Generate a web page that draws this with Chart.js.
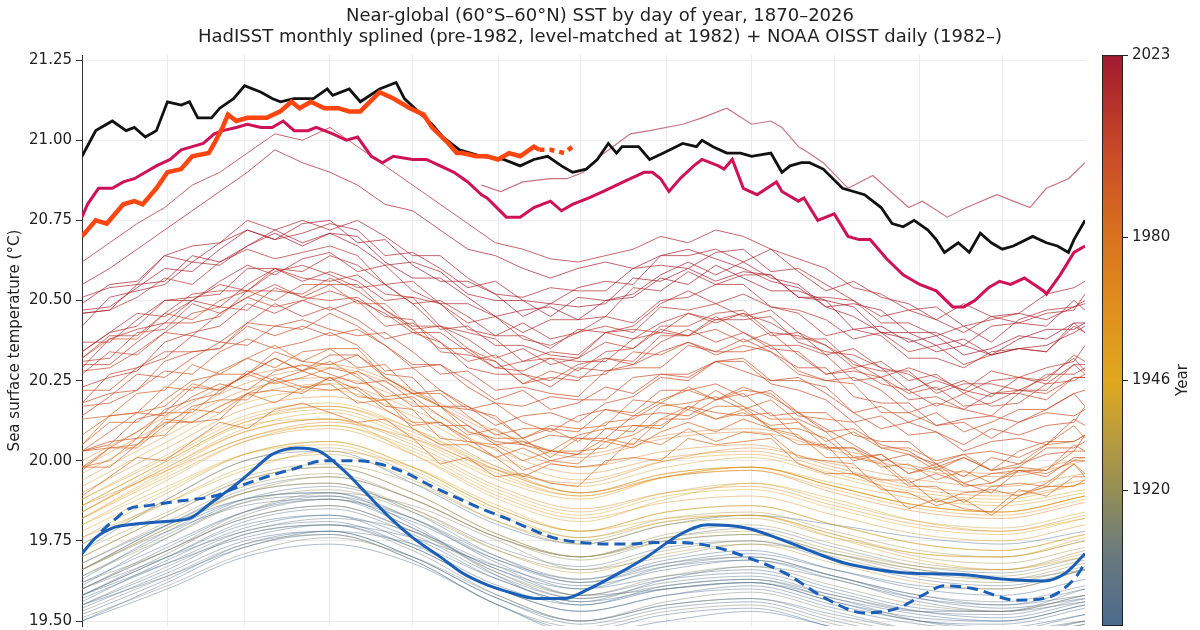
<!DOCTYPE html>
<html>
<head>
<meta charset="utf-8">
<title>Near-global SST by day of year</title>
<script src="https://cdn.jsdelivr.net/npm/chart.js@4.4.1/dist/chart.umd.min.js"></script>
<style>
  html, body { margin: 0; padding: 0; background: #fff; }
  #wrap { width: 1200px; height: 630px; }
</style>
</head>
<body>
<div id="wrap"><canvas id="sst" width="1200" height="630"></canvas></div>
<script>
// day-of-year grids
var monthStarts = [1, 32, 60, 91, 121, 152, 182, 213, 244, 274, 305, 335];
var smoothDays = [1, 32, 60, 91, 121, 152, 182, 213, 244, 274, 305, 335, 365];
var dailyDays = [1, 11, 21, 31, 41, 51, 61, 71, 81, 91, 101, 111, 121, 131, 141, 151, 161, 171, 181,
                 191, 201, 211, 221, 231, 241, 251, 261, 271, 281, 291, 301, 311, 321, 331, 341, 351, 361, 365];

var yTicks = [19.5, 19.75, 20.0, 20.25, 20.5, 20.75, 21.0, 21.25];
var colorbarTicks = [1920, 1946, 1980, 2023];

// HadISST years, monthly splined (values at smoothDays)
var smoothYears = [1870, 1871, 1872, 1873, 1875, 1876, 1878, 1880, 1881, 1883, 1885, 1886, 1888, 1890, 1891,
                   1893, 1895, 1896, 1898, 1900, 1901, 1903, 1905, 1906, 1908, 1910, 1911, 1913, 1915, 1917,
                   1918, 1920, 1923, 1925, 1926, 1929, 1931, 1933, 1934, 1937, 1940, 1942, 1944, 1946, 1949,
                   1950, 1952, 1955, 1957, 1958, 1961, 1964, 1967, 1968, 1970, 1973, 1975, 1976, 1979, 1981];
var smoothSeries = [
  [19.60,19.72,19.82,19.86,19.78,19.66,19.58,19.63,19.65,19.59,19.53,19.51,19.56],
  [19.50,19.60,19.70,19.74,19.68,19.55,19.46,19.50,19.53,19.48,19.42,19.41,19.46],
  [19.63,19.78,19.88,19.90,19.80,19.64,19.55,19.60,19.62,19.56,19.50,19.49,19.54],
  [19.55,19.66,19.77,19.80,19.73,19.60,19.53,19.58,19.61,19.55,19.50,19.48,19.52],
  [19.58,19.68,19.76,19.80,19.76,19.67,19.61,19.66,19.69,19.64,19.57,19.54,19.57],
  [19.66,19.80,19.90,19.93,19.84,19.70,19.62,19.68,19.71,19.66,19.61,19.60,19.66],
  [19.72,19.88,20.00,20.03,19.93,19.80,19.74,19.80,19.83,19.80,19.76,19.74,19.78],
  [19.58,19.70,19.80,19.83,19.76,19.63,19.56,19.60,19.62,19.56,19.51,19.50,19.55],
  [19.68,19.80,19.88,19.90,19.82,19.68,19.60,19.64,19.66,19.60,19.54,19.53,19.58],
  [19.52,19.63,19.74,19.78,19.70,19.57,19.50,19.55,19.57,19.52,19.47,19.46,19.50],
  [19.56,19.69,19.79,19.83,19.74,19.61,19.55,19.61,19.63,19.57,19.52,19.50,19.55],
  [19.50,19.62,19.73,19.77,19.69,19.55,19.47,19.52,19.54,19.48,19.43,19.42,19.47],
  [19.62,19.74,19.84,19.88,19.81,19.69,19.63,19.69,19.72,19.66,19.60,19.58,19.63],
  [19.54,19.65,19.75,19.78,19.70,19.57,19.49,19.54,19.56,19.50,19.45,19.44,19.49],
  [19.61,19.76,19.87,19.89,19.79,19.66,19.60,19.67,19.70,19.64,19.58,19.55,19.58],
  [19.57,19.68,19.78,19.81,19.73,19.60,19.53,19.58,19.60,19.54,19.49,19.47,19.52],
  [19.60,19.73,19.84,19.89,19.82,19.69,19.62,19.67,19.69,19.63,19.57,19.55,19.60],
  [19.55,19.64,19.73,19.78,19.74,19.63,19.56,19.63,19.67,19.63,19.56,19.53,19.56],
  [19.58,19.70,19.81,19.85,19.77,19.64,19.57,19.62,19.64,19.58,19.53,19.52,19.57],
  [19.64,19.77,19.88,19.92,19.85,19.73,19.67,19.73,19.75,19.69,19.63,19.61,19.66],
  [19.66,19.78,19.86,19.88,19.79,19.65,19.57,19.61,19.63,19.58,19.53,19.53,19.60],
  [19.60,19.70,19.78,19.82,19.78,19.67,19.58,19.60,19.62,19.57,19.50,19.47,19.50],
  [19.66,19.80,19.91,19.95,19.88,19.76,19.70,19.76,19.79,19.73,19.67,19.65,19.70],
  [19.58,19.71,19.83,19.88,19.82,19.70,19.63,19.68,19.70,19.64,19.58,19.56,19.61],
  [19.55,19.67,19.77,19.80,19.72,19.58,19.50,19.55,19.57,19.51,19.46,19.45,19.50],
  [19.53,19.64,19.74,19.77,19.69,19.55,19.48,19.53,19.55,19.49,19.44,19.43,19.48],
  [19.51,19.61,19.71,19.76,19.70,19.58,19.50,19.56,19.59,19.53,19.47,19.45,19.49],
  [19.62,19.72,19.84,19.90,19.86,19.75,19.66,19.70,19.74,19.71,19.66,19.63,19.66],
  [19.70,19.83,19.94,19.98,19.90,19.77,19.70,19.75,19.77,19.71,19.65,19.63,19.68],
  [19.60,19.72,19.82,19.86,19.78,19.65,19.58,19.64,19.67,19.61,19.55,19.53,19.58],
  [19.64,19.76,19.87,19.91,19.84,19.72,19.66,19.72,19.75,19.70,19.64,19.62,19.67],
  [19.68,19.81,19.92,19.96,19.88,19.76,19.69,19.75,19.77,19.71,19.66,19.64,19.69],
  [19.66,19.79,19.90,19.95,19.88,19.76,19.70,19.77,19.80,19.74,19.68,19.66,19.72],
  [19.72,19.84,19.95,19.99,19.93,19.81,19.75,19.81,19.83,19.77,19.70,19.68,19.73],
  [19.74,19.88,20.00,20.04,19.96,19.83,19.76,19.82,19.84,19.78,19.72,19.70,19.75],
  [19.70,19.83,19.94,19.98,19.90,19.77,19.70,19.76,19.78,19.72,19.67,19.66,19.71],
  [19.76,19.90,20.02,20.06,19.98,19.85,19.78,19.84,19.86,19.80,19.74,19.72,19.77],
  [19.66,19.79,19.90,19.93,19.85,19.72,19.65,19.71,19.74,19.68,19.62,19.60,19.66],
  [19.74,19.87,19.98,20.02,19.94,19.81,19.74,19.80,19.82,19.76,19.71,19.70,19.75],
  [19.80,19.94,20.06,20.11,20.04,19.91,19.84,19.90,19.93,19.87,19.81,19.79,19.84],
  [19.86,20.00,20.12,20.17,20.10,19.98,19.92,19.98,20.01,19.95,19.89,19.87,19.91],
  [19.84,19.99,20.11,20.13,20.02,19.88,19.81,19.88,19.93,19.88,19.81,19.78,19.82],
  [19.88,20.02,20.14,20.18,20.10,19.97,19.90,19.96,19.98,19.92,19.86,19.84,19.89],
  [19.82,19.96,20.07,20.11,20.03,19.90,19.83,19.89,19.91,19.85,19.79,19.77,19.82],
  [19.78,19.91,20.02,20.06,19.98,19.85,19.78,19.84,19.86,19.80,19.74,19.72,19.77],
  [19.80,19.92,20.02,20.05,19.97,19.84,19.76,19.81,19.83,19.77,19.71,19.70,19.76],
  [19.84,19.98,20.10,20.15,20.07,19.95,19.89,19.95,19.98,19.92,19.86,19.84,19.89],
  [19.76,19.87,19.97,20.03,19.98,19.86,19.78,19.82,19.83,19.76,19.69,19.66,19.70],
  [19.82,19.97,20.09,20.13,20.06,19.94,19.88,19.95,19.98,19.93,19.88,19.86,19.90],
  [19.92,20.06,20.18,20.22,20.14,20.01,19.94,20.00,20.02,19.96,19.90,19.88,19.93],
  [19.86,20.00,20.12,20.16,20.08,19.96,19.89,19.95,19.97,19.91,19.85,19.83,19.88],
  [19.82,19.95,20.06,20.10,20.02,19.89,19.82,19.87,19.89,19.83,19.77,19.75,19.80],
  [19.88,20.01,20.13,20.17,20.09,19.97,19.90,19.96,19.98,19.92,19.86,19.84,19.89],
  [19.84,19.98,20.09,20.13,20.05,19.92,19.85,19.90,19.92,19.86,19.80,19.78,19.83],
  [19.94,20.08,20.20,20.24,20.16,20.03,19.96,20.01,20.03,19.97,19.91,19.89,19.93],
  [19.96,20.10,20.22,20.26,20.18,20.05,19.98,20.03,20.05,19.98,19.92,19.90,19.94],
  [19.90,20.04,20.16,20.20,20.12,19.98,19.90,19.95,19.97,19.90,19.84,19.82,19.87],
  [19.86,19.97,20.07,20.12,20.07,19.97,19.93,20.00,20.04,19.99,19.94,19.92,19.96],
  [19.98,20.12,20.24,20.29,20.21,20.08,20.01,20.07,20.09,20.03,19.97,19.95,20.00],
  [20.00,20.14,20.26,20.30,20.22,20.09,20.02,20.08,20.10,20.04,19.98,19.96,20.01]
];

// NOAA OISST daily years (values at dailyDays)
var dailyYears = [1982, 1983, 1984, 1985, 1986, 1987, 1988, 1989, 1990, 1992, 1993, 1994, 1995, 1997, 1998,
                  1999, 2000, 2001, 2003, 2004, 2005, 2006, 2008, 2009, 2010, 2011, 2012, 2013, 2014, 2015,
                  2016, 2017, 2018, 2019, 2020, 2021, 2022];
var dailySeries = [
  [19.98,20.00,20.07,20.08,20.16,20.15,20.21,20.25,20.22,20.26,20.20,20.19,20.12,20.12,20.06,20.05,20.00,20.03,20.03,20.04,20.11,20.11,20.16,20.13,20.15,20.11,20.12,20.04,20.04,19.98,19.99,19.94,19.97,19.93,19.98,19.97,20.03,20.03],
  [20.05,20.14,20.15,20.17,20.24,20.22,20.27,20.32,20.28,20.31,20.26,20.20,20.21,20.17,20.09,20.07,20.07,20.01,20.07,20.06,20.08,20.13,20.17,20.13,20.16,20.10,20.08,20.01,20.01,19.99,19.92,19.92,19.87,19.92,19.93,19.92,19.99,19.96],
  [19.98,20.04,20.05,20.13,20.12,20.17,20.21,20.18,20.23,20.24,20.18,20.19,20.10,20.05,20.05,20.01,19.95,19.99,19.98,19.99,20.07,20.05,20.10,20.06,20.09,20.08,20.01,20.00,19.99,19.91,19.90,19.86,19.88,19.83,19.89,19.92,19.92,19.94],
  [19.89,19.95,20.01,20.00,20.06,20.12,20.10,20.16,20.18,20.15,20.12,20.13,20.07,19.99,20.01,19.95,19.96,19.93,19.92,20.00,20.01,20.00,20.07,20.05,20.06,20.07,19.99,19.96,19.96,19.92,19.85,19.88,19.85,19.84,19.91,19.89,19.95,19.95],
  [19.97,20.04,20.04,20.11,20.17,20.19,20.19,20.26,20.23,20.22,20.23,20.17,20.16,20.07,20.06,20.04,19.97,20.00,19.99,20.06,20.04,20.09,20.12,20.09,20.13,20.10,20.05,20.05,19.96,19.94,19.94,19.87,19.90,19.91,19.89,19.93,19.99,19.95],
  [20.03,20.04,20.09,20.15,20.15,20.22,20.27,20.24,20.26,20.29,20.27,20.19,20.20,20.14,20.08,20.10,20.05,20.03,20.08,20.10,20.09,20.17,20.18,20.20,20.16,20.19,20.12,20.06,20.09,20.04,20.02,19.97,20.01,19.97,19.99,20.05,20.06,20.08],
  [20.13,20.14,20.21,20.22,20.30,20.27,20.32,20.36,20.31,20.35,20.35,20.26,20.21,20.21,20.14,20.08,20.10,20.10,20.06,20.12,20.13,20.18,20.16,20.22,20.17,20.13,20.13,20.09,20.01,20.02,19.96,19.98,19.92,19.93,19.97,19.96,20.00,20.00],
  [19.98,19.98,20.05,20.12,20.12,20.13,20.21,20.22,20.21,20.26,20.22,20.16,20.11,20.12,20.07,20.01,20.04,20.00,20.02,20.07,20.05,20.13,20.13,20.17,20.17,20.10,20.10,20.07,20.00,20.02,19.96,19.99,19.93,19.96,19.97,19.97,20.05,20.03],
  [20.08,20.14,20.15,20.23,20.22,20.28,20.32,20.29,20.34,20.35,20.29,20.30,20.22,20.17,20.17,20.13,20.07,20.11,20.10,20.11,20.19,20.18,20.23,20.19,20.22,20.21,20.14,20.13,20.12,20.04,20.04,20.00,20.02,19.97,20.03,20.06,20.06,20.08],
  [20.03,20.09,20.15,20.14,20.20,20.24,20.22,20.28,20.30,20.27,20.24,20.25,20.19,20.11,20.11,20.05,20.06,20.03,20.02,20.10,20.11,20.10,20.17,20.15,20.14,20.15,20.07,20.04,20.04,20.00,19.93,19.96,19.93,19.90,19.97,19.95,20.01,20.01],
  [20.05,20.12,20.12,20.19,20.25,20.27,20.27,20.34,20.31,20.30,20.33,20.27,20.26,20.17,20.16,20.14,20.07,20.10,20.09,20.16,20.14,20.19,20.22,20.19,20.23,20.20,20.15,20.15,20.08,20.06,20.06,19.99,20.02,20.03,20.01,20.05,20.11,20.07],
  [20.03,20.06,20.07,20.16,20.19,20.21,20.28,20.25,20.28,20.25,20.28,20.23,20.17,20.17,20.11,20.06,20.05,20.08,20.07,20.07,20.14,20.15,20.14,20.19,20.21,20.14,20.15,20.10,20.05,20.00,20.02,19.99,19.95,20.01,19.99,20.02,20.03,20.08],
  [20.17,20.18,20.22,20.28,20.27,20.34,20.38,20.35,20.37,20.40,20.36,20.28,20.29,20.22,20.16,20.18,20.12,20.09,20.14,20.16,20.15,20.22,20.22,20.24,20.20,20.22,20.15,20.09,20.10,20.05,20.03,19.98,20.01,19.97,19.98,20.04,20.04,20.06],
  [20.03,20.05,20.13,20.15,20.23,20.22,20.27,20.32,20.28,20.33,20.33,20.26,20.21,20.22,20.17,20.11,20.14,20.15,20.12,20.18,20.20,20.26,20.25,20.31,20.28,20.25,20.25,20.23,20.15,20.17,20.12,20.15,20.09,20.12,20.16,20.16,20.21,20.22],
  [20.32,20.38,20.38,20.46,20.44,20.50,20.53,20.50,20.55,20.55,20.49,20.49,20.41,20.35,20.35,20.31,20.24,20.28,20.26,20.27,20.34,20.33,20.37,20.33,20.36,20.34,20.27,20.25,20.24,20.15,20.15,20.11,20.12,20.07,20.12,20.15,20.14,20.16],
  [20.22,20.22,20.29,20.34,20.34,20.35,20.43,20.42,20.41,20.46,20.42,20.36,20.29,20.30,20.25,20.19,20.22,20.16,20.18,20.23,20.21,20.27,20.27,20.31,20.31,20.24,20.22,20.19,20.12,20.14,20.08,20.09,20.03,20.06,20.07,20.05,20.13,20.11],
  [20.18,20.21,20.22,20.31,20.34,20.35,20.42,20.39,20.42,20.39,20.41,20.36,20.30,20.30,20.23,20.18,20.17,20.20,20.19,20.19,20.26,20.27,20.26,20.31,20.32,20.25,20.26,20.21,20.15,20.10,20.12,20.09,20.05,20.10,20.08,20.11,20.12,20.17],
  [20.14,20.20,20.27,20.26,20.32,20.37,20.36,20.42,20.44,20.41,20.39,20.40,20.34,20.27,20.28,20.22,20.23,20.21,20.20,20.28,20.29,20.29,20.36,20.34,20.34,20.36,20.28,20.25,20.26,20.22,20.15,20.18,20.16,20.14,20.21,20.19,20.26,20.26],
  [20.28,20.29,20.34,20.40,20.39,20.46,20.51,20.48,20.50,20.53,20.50,20.42,20.43,20.37,20.31,20.33,20.27,20.25,20.30,20.32,20.31,20.39,20.39,20.41,20.37,20.40,20.33,20.27,20.29,20.24,20.22,20.17,20.21,20.17,20.18,20.24,20.25,20.27],
  [20.27,20.34,20.33,20.40,20.46,20.48,20.47,20.54,20.51,20.50,20.51,20.45,20.44,20.34,20.33,20.31,20.24,20.26,20.25,20.32,20.30,20.34,20.37,20.34,20.38,20.34,20.29,20.29,20.20,20.18,20.18,20.11,20.13,20.14,20.12,20.16,20.21,20.17],
  [20.31,20.32,20.40,20.41,20.49,20.46,20.51,20.55,20.51,20.55,20.55,20.47,20.42,20.42,20.35,20.29,20.31,20.32,20.28,20.34,20.35,20.41,20.39,20.45,20.40,20.36,20.36,20.33,20.25,20.26,20.21,20.23,20.17,20.18,20.22,20.21,20.26,20.26],
  [20.18,20.27,20.29,20.32,20.39,20.37,20.43,20.49,20.45,20.48,20.44,20.38,20.40,20.37,20.29,20.27,20.27,20.23,20.29,20.28,20.30,20.37,20.41,20.37,20.40,20.35,20.34,20.27,20.28,20.26,20.19,20.20,20.16,20.21,20.22,20.22,20.30,20.27],
  [20.30,20.30,20.37,20.43,20.43,20.45,20.53,20.53,20.52,20.57,20.53,20.47,20.41,20.42,20.38,20.32,20.35,20.30,20.32,20.37,20.35,20.42,20.42,20.46,20.47,20.40,20.39,20.36,20.29,20.31,20.25,20.27,20.21,20.25,20.26,20.25,20.33,20.31],
  [20.23,20.26,20.28,20.37,20.40,20.42,20.49,20.46,20.50,20.47,20.50,20.46,20.40,20.40,20.34,20.29,20.28,20.32,20.31,20.31,20.38,20.40,20.39,20.44,20.46,20.39,20.40,20.36,20.31,20.26,20.29,20.26,20.22,20.28,20.26,20.29,20.31,20.36],
  [20.46,20.47,20.51,20.57,20.55,20.62,20.66,20.63,20.65,20.67,20.64,20.55,20.56,20.49,20.43,20.45,20.38,20.36,20.40,20.42,20.40,20.48,20.47,20.49,20.45,20.47,20.40,20.33,20.35,20.29,20.27,20.22,20.25,20.21,20.21,20.27,20.27,20.29],
  [20.32,20.39,20.39,20.46,20.52,20.53,20.53,20.60,20.57,20.56,20.58,20.52,20.51,20.42,20.40,20.38,20.31,20.34,20.33,20.40,20.38,20.43,20.46,20.43,20.46,20.43,20.38,20.38,20.30,20.28,20.28,20.21,20.24,20.24,20.22,20.26,20.32,20.28],
  [20.34,20.40,20.46,20.45,20.50,20.55,20.53,20.59,20.61,20.58,20.54,20.55,20.49,20.41,20.42,20.36,20.36,20.33,20.32,20.40,20.41,20.40,20.46,20.44,20.44,20.45,20.37,20.34,20.33,20.29,20.22,20.25,20.22,20.20,20.26,20.24,20.30,20.30],
  [20.37,20.37,20.44,20.50,20.51,20.52,20.60,20.60,20.59,20.64,20.61,20.55,20.49,20.50,20.45,20.39,20.43,20.38,20.40,20.45,20.43,20.50,20.51,20.55,20.55,20.48,20.47,20.44,20.38,20.40,20.34,20.36,20.30,20.33,20.35,20.34,20.42,20.40],
  [20.29,20.38,20.41,20.43,20.50,20.48,20.55,20.60,20.56,20.59,20.56,20.50,20.51,20.49,20.41,20.39,20.39,20.35,20.41,20.40,20.42,20.49,20.53,20.49,20.52,20.48,20.46,20.39,20.41,20.39,20.32,20.32,20.29,20.34,20.35,20.34,20.43,20.40],
  [20.34,20.40,20.42,20.50,20.50,20.56,20.61,20.58,20.63,20.65,20.59,20.61,20.53,20.49,20.49,20.45,20.40,20.44,20.44,20.45,20.54,20.53,20.59,20.55,20.58,20.58,20.51,20.51,20.50,20.43,20.43,20.39,20.42,20.37,20.44,20.47,20.48,20.50],
  [20.62,20.68,20.74,20.79,20.86,20.90,20.96,21.02,21.00,21.04,20.98,20.92,20.86,20.80,20.74,20.68,20.66,20.63,20.62,20.64,20.66,20.70,20.68,20.72,20.70,20.66,20.63,20.60,20.54,20.52,20.47,20.48,20.42,20.44,20.46,20.44,20.48,20.49],
  [20.51,20.54,20.55,20.64,20.67,20.68,20.75,20.72,20.75,20.72,20.75,20.70,20.64,20.64,20.57,20.52,20.51,20.54,20.53,20.53,20.60,20.61,20.60,20.65,20.66,20.59,20.60,20.55,20.50,20.45,20.47,20.44,20.40,20.45,20.43,20.46,20.47,20.52],
  [20.42,20.51,20.53,20.55,20.62,20.61,20.67,20.72,20.68,20.71,20.67,20.61,20.62,20.59,20.52,20.50,20.50,20.45,20.51,20.50,20.52,20.58,20.62,20.58,20.62,20.57,20.55,20.48,20.49,20.47,20.40,20.40,20.36,20.42,20.43,20.42,20.50,20.47],
  [20.47,20.48,20.54,20.60,20.59,20.66,20.72,20.69,20.71,20.74,20.72,20.64,20.65,20.60,20.54,20.56,20.50,20.49,20.54,20.56,20.55,20.64,20.64,20.66,20.62,20.66,20.59,20.53,20.56,20.51,20.49,20.44,20.49,20.45,20.46,20.52,20.54,20.56],
  [20.55,20.60,20.66,20.72,20.78,20.84,20.90,20.97,20.93,20.90,20.86,20.80,20.78,20.72,20.66,20.64,20.60,20.57,20.60,20.62,20.60,20.64,20.66,20.63,20.60,20.56,20.54,20.48,20.45,20.40,20.38,20.34,20.36,20.33,20.35,20.36,20.40,20.42],
  [20.49,20.55,20.56,20.64,20.62,20.68,20.72,20.69,20.74,20.75,20.68,20.69,20.61,20.56,20.56,20.52,20.45,20.49,20.48,20.49,20.57,20.56,20.60,20.56,20.59,20.58,20.51,20.50,20.48,20.40,20.40,20.36,20.38,20.33,20.38,20.41,20.41,20.43],
  [20.46,20.47,20.55,20.56,20.64,20.62,20.67,20.71,20.67,20.71,20.70,20.62,20.57,20.57,20.51,20.45,20.47,20.48,20.44,20.50,20.51,20.57,20.55,20.61,20.57,20.53,20.53,20.50,20.41,20.42,20.37,20.39,20.33,20.35,20.39,20.38,20.43,20.43]
];

// highlighted lines, [day, value]
var blackLine = [[1,20.95],[6,21.03],[12,21.06],[17,21.03],[20,21.04],[24,21.01],[28,21.03],[32,21.12],[37,21.11],[40,21.12],
  [43,21.07],[48,21.07],[51,21.10],[56,21.13],[60,21.17],[66,21.15],[70,21.13],[73,21.12],[78,21.13],[85,21.13],[90,21.16],
  [92,21.14],[98,21.16],[102,21.12],[109,21.16],[115,21.18],[118,21.13],[123,21.09],[128,21.05],[132,21.01],[138,20.97],
  [146,20.95],[154,20.94],[160,20.92],[165,20.94],[170,20.95],[175,20.92],[179,20.90],[184,20.91],[188,20.94],[192,20.99],
  [195,20.96],[197,20.98],[203,20.98],[207,20.94],[212,20.96],[219,20.99],[224,20.98],[226,21.00],[230,20.98],[235,20.96],
  [240,20.96],[244,20.95],[251,20.96],[255,20.90],[258,20.92],[262,20.93],[265,20.93],[270,20.91],[277,20.85],[281,20.84],
  [285,20.83],[291,20.79],[295,20.74],[299,20.73],[303,20.75],[308,20.72],[311,20.69],[314,20.65],[319,20.68],[323,20.65],
  [327,20.71],[331,20.68],[335,20.66],[339,20.67],[346,20.70],[351,20.68],[355,20.67],[359,20.65],[361,20.69],[365,20.75]];

var orangeLine = [[1,20.70],[6,20.75],[10,20.74],[16,20.80],[20,20.81],[23,20.80],[28,20.85],[32,20.90],[37,20.91],[41,20.95],
  [47,20.96],[49,20.99],[52,21.04],[54,21.08],[57,21.06],[61,21.07],[68,21.07],[73,21.09],[77,21.12],[80,21.10],[84,21.12],
  [89,21.10],[94,21.10],[98,21.09],[102,21.09],[109,21.15],[114,21.13],[120,21.10],[125,21.08],[128,21.04],[134,20.99],
  [137,20.96],[139,20.96],[144,20.95],[148,20.95],[152,20.94],[156,20.96],[160,20.95],[165,20.98],[167,20.97],[171,20.97],
  [176,20.96],[179,20.98]];

var crimsonLine = [[1,20.76],[3,20.80],[7,20.85],[12,20.85],[16,20.87],[20,20.88],[24,20.90],[28,20.92],[33,20.94],[37,20.97],
  [41,20.98],[45,20.99],[49,21.02],[52,21.03],[57,21.04],[61,21.05],[66,21.04],[70,21.04],[74,21.06],[78,21.03],[83,21.03],
  [86,21.04],[92,21.02],[97,21.00],[101,21.01],[106,20.95],[110,20.93],[114,20.95],[121,20.94],[126,20.94],[131,20.92],
  [136,20.90],[141,20.87],[146,20.83],[148,20.82],[155,20.76],[160,20.76],[165,20.79],[168,20.80],[171,20.81],[175,20.78],
  [179,20.80],[185,20.82],[190,20.84],[195,20.86],[200,20.88],[205,20.90],[208,20.90],[211,20.88],[214,20.84],[218,20.88],
  [223,20.92],[226,20.94],[232,20.92],[234,20.91],[237,20.94],[241,20.85],[246,20.83],[253,20.87],[255,20.84],[261,20.81],
  [263,20.82],[268,20.75],[274,20.77],[279,20.70],[283,20.69],[287,20.69],[293,20.63],[299,20.58],[305,20.55],[311,20.53],
  [317,20.48],[321,20.48],[325,20.50],[330,20.54],[334,20.56],[338,20.55],[343,20.57],[350,20.53],[351,20.52],[356,20.58],
  [361,20.65],[365,20.67]];

var thinTopLine = [[146,20.86],[153,20.84],[161,20.87],[171,20.88],[177,20.88],[183,20.90],[189,20.95],[200,21.02],[207,21.03],
  [219,21.05],[226,21.07],[235,21.10],[244,21.05],[251,21.06],[255,21.04],[261,20.98],[263,20.97],[270,20.93],[279,20.85],
  [288,20.89],[301,20.79],[306,20.81],[315,20.76],[322,20.79],[333,20.83],[339,20.81],[345,20.79],[351,20.85],[359,20.88],
  [365,20.93]];

var blueSolid = [[1,19.71],[6,19.76],[12,19.79],[18,19.80],[30,19.81],[40,19.82],[48,19.87],[56,19.92],[63,19.97],[70,20.02],
  [79,20.04],[87,20.03],[96,19.97],[104,19.90],[113,19.82],[121,19.76],[131,19.70],[139,19.65],[146,19.62],[156,19.59],
  [166,19.57],[176,19.57],[185,19.60],[196,19.65],[206,19.70],[218,19.77],[228,19.80],[242,19.79],[256,19.75],[268,19.71],
  [278,19.68],[290,19.66],[300,19.65],[320,19.645],[336,19.63],[350,19.625],[358,19.65],[365,19.71]];

var blueDashed = [[8,19.78],[12,19.81],[18,19.85],[25,19.86],[37,19.875],[49,19.89],[58,19.92],[68,19.95],[78,19.975],
  [89,20.0],[101,20.0],[109,19.99],[119,19.96],[128,19.92],[137,19.885],[146,19.85],[155,19.82],[163,19.79],[172,19.76],
  [182,19.745],[199,19.74],[210,19.745],[218,19.745],[231,19.73],[242,19.70],[256,19.65],[271,19.57],[285,19.525],
  [297,19.54],[306,19.58],[314,19.61],[325,19.60],[340,19.565],[350,19.57],[361,19.63],[365,19.68]];

// colour map of the year colour bar
var cbMin = 1887.8, cbMax = 2023;
var cmapStops = [
  [1887.8, [74, 106, 142]],
  [1905, [106, 122, 126]],
  [1920, [149, 142, 85]],
  [1935, [192, 158, 56]],
  [1946, [223, 168, 30]],
  [1962, [224, 144, 28]],
  [1980, [217, 114, 30]],
  [2000, [201, 74, 40]],
  [2023, [163, 25, 47]]
];

function yearColor(yr, alpha) {
  var y = Math.max(cbMin, Math.min(cbMax, yr));
  for (var i = 1; i < cmapStops.length; i++) {
    if (y <= cmapStops[i][0]) {
      var a = cmapStops[i - 1], b = cmapStops[i];
      var t = (y - a[0]) / (b[0] - a[0]);
      var c = a[1].map(function (v, k) { return Math.round(v + (b[1][k] - v) * t); });
      return 'rgba(' + c[0] + ',' + c[1] + ',' + c[2] + ',' + alpha + ')';
    }
  }
  return 'rgba(163,25,47,' + alpha + ')';
}

function toPoints(days, vals) {
  return days.map(function (d, i) { return { x: d, y: vals[i] }; });
}
function pairPoints(pairs) {
  return pairs.map(function (p) { return { x: p[0], y: p[1] }; });
}

// build datasets bottom -> top, then reverse (Chart.js draws index 0 last)
var layers = [];
smoothYears.forEach(function (yr, i) {
  layers.push({ data: toPoints(smoothDays, smoothSeries[i]), borderColor: yearColor(yr, 0.45),
                borderWidth: 1, cubicInterpolationMode: 'monotone' });
});
dailyYears.forEach(function (yr, i) {
  layers.push({ data: toPoints(dailyDays, dailySeries[i]), borderColor: yearColor(yr, 0.7),
                borderWidth: 1, tension: 0 });
});
layers.push({ data: pairPoints(thinTopLine), borderColor: 'rgba(163,25,47,0.6)', borderWidth: 1.2, tension: 0 });
layers.push({ data: pairPoints(blueDashed), borderColor: '#1c5fb8', borderWidth: 3, borderDash: [11, 6],
              cubicInterpolationMode: 'monotone' });
layers.push({ data: pairPoints(blueSolid), borderColor: '#1c5fb8', borderWidth: 3, cubicInterpolationMode: 'monotone' });
layers.push({ data: pairPoints(crimsonLine), borderColor: '#cf1257', borderWidth: 3, tension: 0 });
layers.push({ data: pairPoints(blackLine), borderColor: '#111111', borderWidth: 2.8, tension: 0 });
layers.push({ data: pairPoints(orangeLine), borderColor: '#ff4510', borderWidth: 4.5, tension: 0,
              segment: { borderDash: function (ctx) { return ctx.p0.parsed.x >= 167 ? [5, 5] : undefined; } } });
var datasets = layers.reverse();

var fontFamily = 'DejaVu Sans';

// colour bar drawn to the right of the plot
var colorbarPlugin = {
  id: 'colorbar',
  afterDraw: function (chart) {
    var ctx = chart.ctx, area = chart.chartArea;
    var x0 = 1102, w = 21, top = area.top, bottom = area.bottom;
    var yOf = function (yr) { return top + (cbMax - yr) / (cbMax - cbMin) * (bottom - top); };
    ctx.save();
    var grad = ctx.createLinearGradient(0, bottom, 0, top);
    cmapStops.forEach(function (s) {
      grad.addColorStop((s[0] - cbMin) / (cbMax - cbMin), 'rgb(' + s[1].join(',') + ')');
    });
    ctx.fillStyle = grad;
    ctx.fillRect(x0, top, w, bottom - top);
    ctx.strokeStyle = '#222';
    ctx.lineWidth = 1;
    ctx.strokeRect(x0 + 0.5, top + 0.5, w - 1, bottom - top - 1);
    ctx.fillStyle = '#222';
    ctx.font = '15px "' + fontFamily + '"';
    ctx.textBaseline = 'middle';
    ctx.textAlign = 'left';
    colorbarTicks.forEach(function (yr) {
      var y = Math.round(yOf(yr)) + 0.5;
      ctx.beginPath();
      ctx.moveTo(x0 + w, y);
      ctx.lineTo(x0 + w + 5, y);
      ctx.stroke();
      ctx.fillText(String(yr), x0 + w + 9, y);
    });
    ctx.translate(1183, 380);
    ctx.rotate(-Math.PI / 2);
    ctx.textAlign = 'center';
    ctx.fillText('Year', 0, 0);
    ctx.restore();
  }
};

new Chart(document.getElementById('sst'), {
  type: 'line',
  data: { datasets: datasets },
  plugins: [colorbarPlugin],
  options: {
    responsive: false,
    devicePixelRatio: 1,
    animation: false,
    events: [],
    layout: { padding: { left: 0, right: 0, top: 0, bottom: 4 } },
    elements: { point: { radius: 0 }, line: { fill: false } },
    plugins: {
      legend: { display: false },
      tooltip: { enabled: false },
      title: {
        display: true,
        text: ['Near-global (60°S–60°N) SST by day of year, 1870–2026',
               'HadISST monthly splined (pre-1982, level-matched at 1982) + NOAA OISST daily (1982–)'],
        color: '#222',
        font: { family: fontFamily, size: 18, weight: 'normal', lineHeight: 1.17 },
        padding: { top: 6, bottom: 7 }
      }
    },
    scales: {
      x: {
        type: 'linear', min: 1, max: 365,
        afterBuildTicks: function (s) { s.ticks = monthStarts.map(function (v) { return { value: v }; }); },
        ticks: { display: false },
        grid: { color: '#ececec', drawTicks: false },
        border: { display: false },
        afterFit: function (s) { s.height = 0; }
      },
      y: {
        min: 19.4844, max: 21.2656,
        afterBuildTicks: function (s) { s.ticks = yTicks.map(function (v) { return { value: v }; }); },
        ticks: {
          callback: function (v) { return v.toFixed(2); },
          color: '#222', padding: 4,
          font: { family: fontFamily, size: 15 }
        },
        grid: { color: '#ececec', tickColor: '#333', tickLength: 6 },
        border: { color: '#333' },
        title: {
          display: true, text: 'Sea surface temperature (°C)', color: '#222',
          font: { family: fontFamily, size: 15 }, padding: { top: 6, bottom: 0 }
        },
        afterFit: function (s) { s.width = 82; s.paddingTop = 0; s.paddingBottom = 0; }
      },
      yr: {
        position: 'right', min: 0, max: 1,
        ticks: { display: false },
        grid: { display: false },
        border: { display: false },
        afterFit: function (s) { s.width = 115; }
      }
    }
  }
});
</script>
</body>
</html>
